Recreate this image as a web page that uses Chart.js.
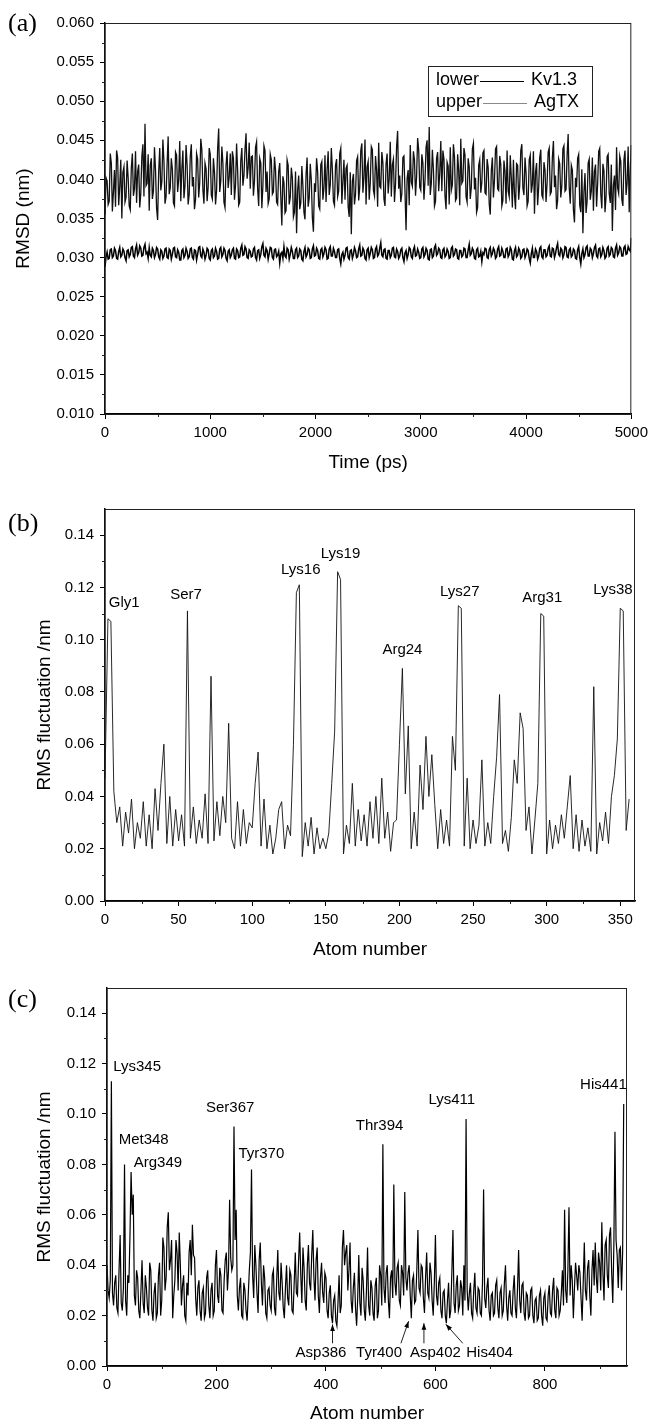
<!DOCTYPE html>
<html>
<head>
<meta charset="utf-8">
<script src="https://cdn.jsdelivr.net/npm/chart.js@4.4.1/dist/chart.umd.min.js"></script>
<style>
  html, body { margin: 0; padding: 0; background: #fff; }
  body { width: 653px; height: 1427px; position: relative; overflow: hidden; }
  .panel { position: absolute; left: 0; width: 653px; }
  #boxA { top: 0; height: 480px; }
  #boxB { top: 480px; height: 484px; }
  #boxC { top: 964px; height: 463px; }
</style>
</head>
<body>
<div class="panel" id="boxA"><canvas id="chartA"></canvas></div>
<div class="panel" id="boxB"><canvas id="chartB"></canvas></div>
<div class="panel" id="boxC"><canvas id="chartC"></canvas></div>
<script>
// ---- (a) RMSD vs time, one sample every 10 ps ----
const TIME_STEP = 10;
const agtxRmsd = [
  0.0355,0.0402,0.0398,0.0368,0.0372,0.0433,0.0421,0.0359,0.0384,0.0412,0.0365,0.0437,0.0428,0.0367,0.0391,0.0425,0.0350,0.0409,0.0416,0.0371,
  0.0377,0.0424,0.0402,0.0366,0.0361,0.0415,0.0433,0.0379,0.0388,0.0436,0.0370,0.0410,0.0419,0.0364,0.0382,0.0429,0.0445,0.0378,0.0471,0.0392,
  0.0395,0.0432,0.0360,0.0418,0.0427,0.0375,0.0385,0.0441,0.0412,0.0363,0.0348,0.0409,0.0440,0.0386,0.0397,0.0451,0.0423,0.0369,0.0378,0.0420,
  0.0455,0.0381,0.0389,0.0427,0.0413,0.0370,0.0366,0.0435,0.0431,0.0384,0.0400,0.0449,0.0372,0.0413,0.0437,0.0376,0.0392,0.0444,0.0418,0.0368,
  0.0381,0.0429,0.0445,0.0391,0.0403,0.0362,0.0374,0.0433,0.0426,0.0377,0.0396,0.0452,0.0438,0.0387,0.0369,0.0421,0.0414,0.0372,0.0390,0.0440,
  0.0432,0.0380,0.0375,0.0427,0.0409,0.0368,0.0386,0.0439,0.0465,0.0384,0.0398,0.0442,0.0421,0.0371,0.0364,0.0418,0.0436,0.0389,0.0403,0.0433,
  0.0380,0.0436,0.0427,0.0374,0.0393,0.0446,0.0411,0.0367,0.0371,0.0424,0.0440,0.0392,0.0405,0.0438,0.0459,0.0401,0.0415,0.0447,0.0388,0.0429,
  0.0430,0.0379,0.0398,0.0441,0.0448,0.0388,0.0366,0.0427,0.0421,0.0363,0.0392,0.0443,0.0437,0.0384,0.0410,0.0369,0.0375,0.0432,0.0425,0.0381,
  0.0384,0.0429,0.0412,0.0371,0.0368,0.0410,0.0421,0.0378,0.0341,0.0404,0.0396,0.0357,0.0360,0.0425,0.0418,0.0368,0.0377,0.0415,0.0402,0.0352,
  0.0358,0.0410,0.0331,0.0386,0.0405,0.0362,0.0370,0.0417,0.0392,0.0358,0.0349,0.0406,0.0428,0.0365,0.0376,0.0420,0.0399,0.0351,0.0333,0.0395,
  0.0384,0.0427,0.0410,0.0366,0.0362,0.0419,0.0423,0.0374,0.0389,0.0431,0.0371,0.0412,0.0436,0.0380,0.0393,0.0440,0.0413,0.0372,0.0367,0.0418,
  0.0426,0.0378,0.0385,0.0433,0.0440,0.0369,0.0397,0.0425,0.0374,0.0414,0.0418,0.0365,0.0352,0.0409,0.0330,0.0398,0.0407,0.0368,0.0381,0.0424,
  0.0429,0.0373,0.0390,0.0437,0.0446,0.0383,0.0402,0.0451,0.0368,0.0416,0.0423,0.0374,0.0395,0.0442,0.0438,0.0386,0.0379,0.0430,0.0412,0.0365,
  0.0447,0.0391,0.0389,0.0435,0.0421,0.0375,0.0366,0.0420,0.0433,0.0382,0.0401,0.0448,0.0378,0.0419,0.0426,0.0371,0.0394,0.0441,0.0462,0.0388,
  0.0405,0.0371,0.0382,0.0428,0.0430,0.0384,0.0335,0.0401,0.0412,0.0367,0.0444,0.0396,0.0391,0.0436,0.0425,0.0379,0.0403,0.0453,0.0438,0.0390,
  0.0386,0.0432,0.0421,0.0374,0.0398,0.0441,0.0450,0.0392,0.0467,0.0380,0.0395,0.0438,0.0413,0.0366,0.0372,0.0427,0.0435,0.0385,0.0408,0.0449,
  0.0385,0.0437,0.0426,0.0379,0.0362,0.0422,0.0417,0.0368,0.0441,0.0386,0.0393,0.0445,0.0429,0.0373,0.0376,0.0432,0.0411,0.0367,0.0452,0.0395,
  0.0398,0.0440,0.0431,0.0378,0.0371,0.0427,0.0416,0.0375,0.0390,0.0439,0.0446,0.0387,0.0402,0.0358,0.0364,0.0418,0.0425,0.0383,0.0396,0.0434,
  0.0437,0.0383,0.0381,0.0426,0.0415,0.0369,0.0355,0.0411,0.0428,0.0377,0.0399,0.0439,0.0442,0.0388,0.0386,0.0430,0.0419,0.0366,0.0373,0.0424,
  0.0410,0.0369,0.0437,0.0385,0.0378,0.0431,0.0402,0.0364,0.0425,0.0381,0.0362,0.0420,0.0418,0.0374,0.0393,0.0437,0.0445,0.0389,0.0380,0.0428,
  0.0408,0.0366,0.0372,0.0425,0.0431,0.0383,0.0394,0.0436,0.0356,0.0409,0.0421,0.0367,0.0390,0.0428,0.0438,0.0380,0.0376,0.0422,0.0412,0.0371,
  0.0396,0.0435,0.0440,0.0381,0.0384,0.0428,0.0449,0.0390,0.0405,0.0362,0.0373,0.0426,0.0420,0.0377,0.0392,0.0439,0.0443,0.0385,0.0387,0.0431,
  0.0458,0.0390,0.0369,0.0418,0.0412,0.0361,0.0345,0.0402,0.0390,0.0427,0.0432,0.0367,0.0358,0.0413,0.0331,0.0384,0.0408,0.0357,0.0372,0.0421,
  0.0426,0.0374,0.0385,0.0428,0.0360,0.0410,0.0419,0.0365,0.0394,0.0436,0.0440,0.0381,0.0363,0.0420,0.0411,0.0358,0.0378,0.0429,0.0432,0.0382,
  0.0370,0.0419,0.0334,0.0392,0.0405,0.0361,0.0441,0.0389,0.0382,0.0430,0.0423,0.0374,0.0366,0.0425,0.0437,0.0380,0.0395,0.0442,0.0358,0.0413,
  0.0444
];
const kv13Rmsd = [
  0.0288,0.0301,0.0307,0.0298,0.0299,0.0310,0.0311,0.0300,0.0302,0.0312,0.0309,0.0299,0.0298,0.0308,0.0313,0.0301,0.0303,0.0311,0.0308,0.0300,
  0.0296,0.0309,0.0310,0.0301,0.0304,0.0313,0.0314,0.0302,0.0300,0.0311,0.0316,0.0303,0.0306,0.0315,0.0312,0.0302,0.0303,0.0313,0.0317,0.0305,
  0.0307,0.0299,0.0313,0.0303,0.0301,0.0312,0.0309,0.0300,0.0304,0.0313,0.0311,0.0301,0.0298,0.0310,0.0308,0.0299,0.0302,0.0311,0.0312,0.0300,
  0.0299,0.0311,0.0309,0.0298,0.0304,0.0312,0.0313,0.0301,0.0300,0.0310,0.0307,0.0297,0.0297,0.0309,0.0311,0.0300,0.0303,0.0312,0.0308,0.0299,
  0.0301,0.0311,0.0312,0.0300,0.0298,0.0310,0.0309,0.0297,0.0304,0.0313,0.0314,0.0302,0.0300,0.0311,0.0307,0.0298,0.0303,0.0312,0.0310,0.0299,
  0.0297,0.0309,0.0311,0.0300,0.0302,0.0312,0.0308,0.0298,0.0299,0.0311,0.0313,0.0301,0.0304,0.0312,0.0309,0.0299,0.0296,0.0308,0.0310,0.0300,
  0.0303,0.0310,0.0312,0.0299,0.0298,0.0311,0.0309,0.0300,0.0301,0.0312,0.0316,0.0303,0.0304,0.0314,0.0311,0.0300,0.0299,0.0310,0.0308,0.0301,
  0.0302,0.0311,0.0313,0.0300,0.0297,0.0309,0.0310,0.0299,0.0304,0.0314,0.0318,0.0303,0.0301,0.0312,0.0309,0.0298,0.0305,0.0313,0.0312,0.0300,
  0.0298,0.0310,0.0311,0.0301,0.0303,0.0308,0.0293,0.0305,0.0307,0.0299,0.0314,0.0302,0.0300,0.0312,0.0310,0.0298,0.0304,0.0313,0.0308,0.0299,
  0.0299,0.0310,0.0312,0.0300,0.0302,0.0311,0.0309,0.0298,0.0296,0.0308,0.0313,0.0301,0.0304,0.0312,0.0310,0.0299,0.0300,0.0311,0.0315,0.0302,
  0.0303,0.0312,0.0309,0.0299,0.0298,0.0310,0.0312,0.0301,0.0305,0.0313,0.0310,0.0298,0.0299,0.0311,0.0314,0.0302,0.0302,0.0312,0.0308,0.0300,
  0.0300,0.0310,0.0311,0.0299,0.0292,0.0304,0.0307,0.0298,0.0303,0.0312,0.0313,0.0300,0.0298,0.0309,0.0310,0.0299,0.0304,0.0313,0.0309,0.0300,
  0.0301,0.0311,0.0316,0.0302,0.0303,0.0312,0.0309,0.0299,0.0297,0.0310,0.0312,0.0300,0.0305,0.0313,0.0310,0.0299,0.0300,0.0311,0.0314,0.0302,
  0.0304,0.0312,0.0319,0.0303,0.0301,0.0310,0.0311,0.0299,0.0298,0.0309,0.0309,0.0300,0.0303,0.0312,0.0313,0.0301,0.0300,0.0311,0.0308,0.0299,
  0.0302,0.0310,0.0312,0.0300,0.0295,0.0306,0.0309,0.0299,0.0304,0.0313,0.0311,0.0301,0.0299,0.0310,0.0314,0.0302,0.0303,0.0311,0.0307,0.0299,
  0.0300,0.0311,0.0313,0.0301,0.0304,0.0312,0.0309,0.0298,0.0297,0.0310,0.0311,0.0300,0.0302,0.0313,0.0316,0.0303,0.0305,0.0312,0.0310,0.0300,
  0.0299,0.0310,0.0312,0.0301,0.0303,0.0311,0.0308,0.0299,0.0300,0.0312,0.0314,0.0302,0.0304,0.0311,0.0310,0.0299,0.0298,0.0309,0.0309,0.0301,
  0.0303,0.0312,0.0311,0.0300,0.0300,0.0310,0.0317,0.0303,0.0305,0.0312,0.0309,0.0299,0.0298,0.0310,0.0312,0.0301,0.0302,0.0308,0.0295,0.0306,
  0.0304,0.0312,0.0311,0.0300,0.0299,0.0310,0.0313,0.0302,0.0305,0.0312,0.0309,0.0299,0.0301,0.0311,0.0314,0.0302,0.0303,0.0312,0.0308,0.0300,
  0.0300,0.0311,0.0312,0.0301,0.0304,0.0313,0.0310,0.0298,0.0297,0.0309,0.0313,0.0301,0.0303,0.0312,0.0309,0.0299,0.0301,0.0310,0.0311,0.0300,
  0.0304,0.0311,0.0309,0.0299,0.0293,0.0305,0.0312,0.0300,0.0300,0.0311,0.0308,0.0298,0.0302,0.0312,0.0314,0.0301,0.0299,0.0310,0.0310,0.0301,
  0.0303,0.0312,0.0315,0.0302,0.0301,0.0312,0.0311,0.0300,0.0305,0.0313,0.0318,0.0304,0.0302,0.0312,0.0310,0.0300,0.0304,0.0314,0.0313,0.0301,
  0.0300,0.0310,0.0312,0.0301,0.0303,0.0311,0.0309,0.0299,0.0298,0.0310,0.0314,0.0300,0.0292,0.0305,0.0311,0.0300,0.0304,0.0313,0.0315,0.0302,
  0.0302,0.0312,0.0310,0.0300,0.0305,0.0313,0.0316,0.0302,0.0300,0.0311,0.0312,0.0301,0.0304,0.0313,0.0309,0.0299,0.0301,0.0312,0.0314,0.0302,
  0.0304,0.0313,0.0311,0.0301,0.0300,0.0312,0.0316,0.0303,0.0306,0.0314,0.0312,0.0302,0.0302,0.0313,0.0315,0.0304,0.0305,0.0314,0.0310,0.0308,
  0.0325
];
const timeTicks = [0, 1000, 2000, 3000, 4000, 5000];
const timeMinor = [500, 1500, 2500, 3500, 4500];
const rmsdTicks = [0.010, 0.015, 0.020, 0.025, 0.030, 0.035, 0.040, 0.045, 0.050, 0.055, 0.060];
const rmsdMinor = [0.0125, 0.0175, 0.0225, 0.0275, 0.0325, 0.0375, 0.0425, 0.0475, 0.0525, 0.0575];

// ---- (b) AgTX fluctuation, every 2nd atom ----
const AGTX_STEP = 2;
const agtxRmsf = [
  0.047,0.108,0.107,0.042,0.030,0.036,0.021,0.034,0.026,0.039,
  0.020,0.030,0.024,0.038,0.021,0.033,0.020,0.043,0.027,0.045,
  0.060,0.022,0.040,0.021,0.035,0.023,0.033,0.021,0.111,0.024,
  0.036,0.022,0.031,0.024,0.041,0.022,0.086,0.023,0.038,0.025,
  0.040,0.030,0.068,0.024,0.020,0.038,0.021,0.035,0.022,0.030,
  0.028,0.045,0.057,0.021,0.039,0.020,0.029,0.018,0.024,0.035,
  0.038,0.020,0.029,0.025,0.060,0.118,0.121,0.017,0.030,0.021,
  0.032,0.018,0.028,0.020,0.024,0.020,0.026,0.045,0.065,0.126,
  0.123,0.018,0.029,0.022,0.045,0.021,0.035,0.023,0.033,0.021,
  0.038,0.024,0.040,0.022,0.047,0.024,0.034,0.019,0.030,0.031,
  0.060,0.089,0.041,0.067,0.020,0.034,0.021,0.052,0.035,0.063,
  0.040,0.056,0.037,0.020,0.035,0.022,0.031,0.021,0.063,0.050,
  0.113,0.112,0.021,0.047,0.020,0.031,0.022,0.029,0.054,0.021,
  0.030,0.022,0.040,0.055,0.079,0.022,0.027,0.019,0.032,0.054,
  0.045,0.072,0.066,0.027,0.036,0.018,0.031,0.045,0.110,0.109,
  0.018,0.031,0.020,0.029,0.022,0.033,0.024,0.036,0.048,0.020,
  0.033,0.019,0.031,0.021,0.028,0.019,0.082,0.018,0.030,0.023,
  0.034,0.022,0.040,0.048,0.062,0.112,0.111,0.027,0.039
];
const agtxTicks = [0, 50, 100, 150, 200, 250, 300, 350];
const agtxMinor = [25, 75, 125, 175, 225, 275, 325];

// ---- (c) Kv1.3 fluctuation, every 2nd atom ----
const KV_STEP = 2;
const kv13Rmsf = [
  0.040,0.030,0.027,0.034,0.113,0.029,0.024,0.033,0.036,0.023,0.021,0.038,0.052,0.025,0.022,0.031,0.080,0.026,0.020,0.036,
  0.033,0.052,0.077,0.060,0.068,0.028,0.024,0.038,0.035,0.022,0.019,0.030,0.042,0.025,0.021,0.036,0.031,0.023,0.020,0.041,
  0.038,0.022,0.018,0.029,0.033,0.019,0.021,0.036,0.041,0.020,0.026,0.051,0.047,0.030,0.035,0.055,0.061,0.038,0.042,0.050,
  0.019,0.028,0.034,0.050,0.045,0.030,0.053,0.040,0.024,0.032,0.036,0.020,0.018,0.033,0.028,0.045,0.050,0.036,0.056,0.044,
  0.043,0.027,0.020,0.031,0.034,0.022,0.018,0.029,0.031,0.019,0.021,0.035,0.038,0.024,0.019,0.030,0.033,0.020,0.022,0.040,
  0.046,0.028,0.025,0.039,0.036,0.022,0.021,0.034,0.042,0.045,0.030,0.038,0.066,0.043,0.038,0.040,0.095,0.050,0.062,0.028,
  0.022,0.031,0.035,0.020,0.019,0.033,0.030,0.022,0.018,0.028,0.038,0.045,0.078,0.036,0.027,0.048,0.040,0.029,0.021,0.042,
  0.049,0.033,0.024,0.040,0.035,0.021,0.019,0.030,0.031,0.024,0.022,0.036,0.038,0.023,0.020,0.034,0.046,0.029,0.026,0.041,
  0.033,0.023,0.019,0.031,0.040,0.027,0.024,0.038,0.036,0.022,0.021,0.033,0.045,0.029,0.028,0.042,0.053,0.036,0.025,0.047,
  0.039,0.026,0.022,0.040,0.048,0.033,0.030,0.044,0.054,0.035,0.026,0.042,0.047,0.028,0.021,0.035,0.041,0.029,0.025,0.037,
  0.035,0.022,0.019,0.029,0.032,0.020,0.017,0.026,0.028,0.018,0.016,0.025,0.036,0.021,0.024,0.047,0.054,0.040,0.045,0.048,
  0.030,0.038,0.049,0.026,0.021,0.031,0.037,0.023,0.016,0.027,0.044,0.025,0.020,0.039,0.034,0.022,0.018,0.030,0.047,0.024,
  0.020,0.034,0.031,0.021,0.018,0.032,0.035,0.019,0.022,0.040,0.036,0.024,0.088,0.031,0.025,0.037,0.040,0.026,0.019,0.035,
  0.038,0.027,0.072,0.033,0.028,0.039,0.041,0.026,0.024,0.040,0.037,0.028,0.069,0.035,0.030,0.037,0.040,0.028,0.019,0.034,
  0.036,0.025,0.026,0.038,0.054,0.031,0.029,0.040,0.039,0.027,0.021,0.035,0.045,0.029,0.027,0.041,0.037,0.026,0.020,0.033,
  0.052,0.028,0.024,0.033,0.035,0.022,0.019,0.029,0.030,0.020,0.017,0.026,0.033,0.019,0.022,0.037,0.054,0.025,0.021,0.032,
  0.036,0.022,0.024,0.034,0.031,0.020,0.040,0.026,0.098,0.030,0.022,0.029,0.033,0.021,0.019,0.030,0.037,0.023,0.021,0.031,
  0.030,0.021,0.020,0.033,0.070,0.027,0.023,0.031,0.035,0.022,0.018,0.028,0.029,0.020,0.021,0.032,0.034,0.023,0.019,0.029,
  0.031,0.020,0.022,0.033,0.040,0.024,0.018,0.027,0.030,0.021,0.020,0.030,0.036,0.023,0.019,0.031,0.046,0.026,0.021,0.032,
  0.033,0.021,0.018,0.029,0.028,0.019,0.020,0.030,0.031,0.020,0.017,0.026,0.027,0.018,0.019,0.028,0.030,0.020,0.016,0.027,
  0.029,0.019,0.018,0.028,0.032,0.021,0.020,0.030,0.035,0.022,0.019,0.031,0.030,0.020,0.022,0.029,0.038,0.024,0.062,0.030,
  0.025,0.038,0.063,0.028,0.040,0.034,0.019,0.031,0.041,0.036,0.030,0.040,0.037,0.027,0.018,0.033,0.049,0.030,0.026,0.039,
  0.042,0.028,0.020,0.038,0.046,0.032,0.049,0.035,0.029,0.045,0.041,0.030,0.057,0.037,0.026,0.048,0.050,0.036,0.031,0.052,
  0.055,0.037,0.025,0.048,0.093,0.050,0.044,0.031,0.046,0.047,0.030,0.045,0.104
];
const kv13Ticks = [0, 200, 400, 600, 800];
const kv13Minor = [100, 300, 500, 700, 900];

const rmsfTicks = [0, 0.02, 0.04, 0.06, 0.08, 0.10, 0.12, 0.14];
const rmsfMinor = [0.01, 0.03, 0.05, 0.07, 0.09, 0.11, 0.13];

// residue labels, placed in data units
const agtxLabels = [
  { text: 'Gly1', x: 13, y: 0.114 },
  { text: 'Ser7', x: 55, y: 0.117 },
  { text: 'Lys16', x: 133, y: 0.1267 },
  { text: 'Lys19', x: 160, y: 0.1328 },
  { text: 'Arg24', x: 202, y: 0.0961 },
  { text: 'Lys27', x: 241, y: 0.1184 },
  { text: 'Arg31', x: 297, y: 0.1161 },
  { text: 'Lys38', x: 345, y: 0.119 }
];
const kv13Labels = [
  { text: 'Lys345', x: 55, y: 0.1186 },
  { text: 'Met348', x: 67, y: 0.0898 },
  { text: 'Arg349', x: 93, y: 0.0807 },
  { text: 'Ser367', x: 225, y: 0.1025 },
  { text: 'Tyr370', x: 282, y: 0.0843 },
  { text: 'Thr394', x: 498, y: 0.0954 },
  { text: 'Lys411', x: 630, y: 0.1057 },
  { text: 'His441', x: 907, y: 0.1117 },
  { text: 'Asp386', x: 391, y: 0.0052 },
  { text: 'Tyr400', x: 497, y: 0.0052 },
  { text: 'Asp402', x: 600, y: 0.0052 },
  { text: 'His404', x: 699, y: 0.0052 }
];
const kv13Arrows = [
  { x0: 412, y0: 0.009, x1: 412, y1: 0.0165 },
  { x0: 537, y0: 0.009, x1: 551, y1: 0.0178 },
  { x0: 579, y0: 0.009, x1: 579, y1: 0.017 },
  { x0: 650, y0: 0.009, x1: 619, y1: 0.0166 }
];

const FONT = "'Liberation Sans', Arial, Helvetica, sans-serif";
Chart.defaults.font.family = FONT;
Chart.defaults.color = '#000';

const toPoints = (vals, step) => vals.map((v, i) => ({ x: i * step, y: v }));

// frame, minor ticks, panel tag, residue labels, arrows, legend
const decorPlugin = {
  id: 'decor',
  afterDraw(chart, args, opts) {
    const { ctx, chartArea: a, scales: { x, y } } = chart;
    ctx.save();
    ctx.strokeStyle = '#222';
    ctx.lineWidth = 1;
    ctx.strokeRect(a.left, a.top + 0.5, a.right - a.left - 0.5, a.bottom - a.top);

    ctx.beginPath();
    (opts.xMinor || []).forEach(v => {
      const px = Math.round(x.getPixelForValue(v)) + 0.5;
      ctx.moveTo(px, a.bottom);
      ctx.lineTo(px, a.bottom + 3);
    });
    (opts.yMinor || []).forEach(v => {
      const py = Math.round(y.getPixelForValue(v)) + 0.5;
      ctx.moveTo(a.left, py);
      ctx.lineTo(a.left - 3, py);
    });
    ctx.stroke();

    ctx.fillStyle = '#000';
    ctx.textBaseline = 'middle';
    ctx.textAlign = 'left';
    ctx.font = "26px 'Liberation Serif', 'Times New Roman', serif";
    ctx.fillText(opts.tag.text, opts.tag.x, opts.tag.y);

    ctx.font = '15px ' + FONT;
    ctx.textAlign = 'center';
    (opts.labels || []).forEach(l => {
      ctx.fillText(l.text, x.getPixelForValue(l.x), y.getPixelForValue(l.y));
    });

    (opts.arrows || []).forEach(r => {
      const x0 = x.getPixelForValue(r.x0), y0 = y.getPixelForValue(r.y0);
      const x1 = x.getPixelForValue(r.x1), y1 = y.getPixelForValue(r.y1);
      const ang = Math.atan2(y1 - y0, x1 - x0);
      ctx.beginPath();
      ctx.moveTo(x0, y0);
      ctx.lineTo(x1, y1);
      ctx.stroke();
      ctx.beginPath();
      ctx.moveTo(x1, y1);
      ctx.lineTo(x1 - 7 * Math.cos(ang - 0.35), y1 - 7 * Math.sin(ang - 0.35));
      ctx.lineTo(x1 - 7 * Math.cos(ang + 0.35), y1 - 7 * Math.sin(ang + 0.35));
      ctx.closePath();
      ctx.fill();
    });

    if (opts.legend) {
      const L = opts.legend;
      ctx.strokeStyle = '#222';
      ctx.strokeRect(L.box[0] + 0.5, L.box[1] + 0.5, L.box[2], L.box[3]);
      ctx.font = '18px ' + FONT;
      ctx.textAlign = 'left';
      L.rows.forEach(row => {
        ctx.fillStyle = '#000';
        ctx.fillText(row.left, L.x, row.y);
        const lx = L.x + ctx.measureText(row.left).width + 1;
        ctx.strokeStyle = row.color;
        ctx.beginPath();
        ctx.moveTo(lx, row.y + 1.5);
        ctx.lineTo(lx + 44, row.y + 1.5);
        ctx.stroke();
        ctx.fillText(row.right, lx + 51, row.y);
      });
    }
    ctx.restore();
  }
};

function makeOptions(cfg) {
  return {
    responsive: true,
    maintainAspectRatio: false,
    animation: false,
    events: [],
    layout: { padding: cfg.padding },
    plugins: {
      legend: { display: false },
      tooltip: { enabled: false },
      decor: cfg.decor
    },
    scales: {
      x: {
        type: 'linear',
        min: cfg.xMin, max: cfg.xMax,
        afterBuildTicks: s => { s.ticks = cfg.xTicks.map(v => ({ value: v })); },
        afterFit: s => { s.height = cfg.xHeight; },
        grid: { drawOnChartArea: false, drawTicks: true, tickLength: 5, tickColor: '#000' },
        border: { display: true, color: '#000', width: 1.5 },
        ticks: { font: { size: 15 }, padding: 5, maxRotation: 0, autoSkip: false, color: '#000',
                 callback: v => String(v) },
        title: { display: true, text: cfg.xTitle, font: { size: 19 }, color: '#000',
                 padding: { top: 0, bottom: cfg.xTitlePad } }
      },
      y: {
        type: 'linear',
        min: cfg.yMin, max: cfg.yMax,
        afterBuildTicks: s => { s.ticks = cfg.yTicks.map(v => ({ value: v })); },
        afterFit: s => { s.width = cfg.yWidth; },
        grid: { drawOnChartArea: false, drawTicks: true, tickLength: 5, tickColor: '#000' },
        border: { display: true, color: '#000', width: 1.5 },
        ticks: { font: { size: 15 }, padding: 6, autoSkip: false, color: '#000',
                 callback: v => Number(v).toFixed(cfg.yDigits) },
        title: { display: true, text: cfg.yTitle, font: { size: 19 }, color: '#000',
                 padding: { top: cfg.yTitlePad, bottom: 0 } }
      }
    }
  };
}

new Chart(document.getElementById('chartA'), {
  type: 'line',
  data: {
    datasets: [
      { label: 'Kv1.3', data: toPoints(kv13Rmsd, TIME_STEP),
        borderColor: '#000', borderWidth: 1.5, pointRadius: 0, tension: 0 },
      { label: 'AgTX', data: toPoints(agtxRmsd, TIME_STEP),
        borderColor: '#111', borderWidth: 1.3, pointRadius: 0, tension: 0 }
    ]
  },
  options: makeOptions({
    padding: { top: 23, right: 19, left: 0, bottom: 0 },
    xMin: 0, xMax: 5000, xTicks: timeTicks, xHeight: 66, xTitle: 'Time (ps)', xTitlePad: 6,
    yMin: 0.010, yMax: 0.060, yTicks: rmsdTicks, yWidth: 105, yDigits: 3,
    yTitle: 'RMSD (nm)', yTitlePad: 12,
    decor: {
      xMinor: timeMinor, yMinor: rmsdMinor,
      tag: { text: '(a)', x: 8, y: 24 },
      legend: {
        box: [428, 66, 164, 50], x: 436,
        rows: [
          { left: 'lower', right: 'Kv1.3', y: 80, color: '#000' },
          { left: 'upper', right: 'AgTX', y: 102, color: '#888' }
        ]
      }
    }
  }),
  plugins: [decorPlugin]
});

new Chart(document.getElementById('chartB'), {
  type: 'line',
  data: {
    datasets: [
      { label: 'AgTX', data: toPoints(agtxRmsf, AGTX_STEP),
        borderColor: '#111', borderWidth: 0.9, pointRadius: 0, tension: 0 }
    ]
  },
  options: makeOptions({
    padding: { top: 29, right: 18, left: 0, bottom: 0 },
    xMin: 0, xMax: 360, xTicks: agtxTicks, xHeight: 63, xTitle: 'Atom number', xTitlePad: 3,
    yMin: 0, yMax: 0.15, yTicks: rmsfTicks, yWidth: 105, yDigits: 2,
    yTitle: 'RMS fluctuation /nm', yTitlePad: 33,
    decor: {
      xMinor: agtxMinor, yMinor: rmsfMinor,
      tag: { text: '(b)', x: 8, y: 44 },
      labels: agtxLabels
    }
  }),
  plugins: [decorPlugin]
});

new Chart(document.getElementById('chartC'), {
  type: 'line',
  data: {
    datasets: [
      { label: 'Kv1.3', data: toPoints(kv13Rmsf, KV_STEP),
        borderColor: '#000', borderWidth: 1.2, pointRadius: 0, tension: 0 }
    ]
  },
  options: makeOptions({
    padding: { top: 24, right: 26, left: 0, bottom: 0 },
    xMin: 0, xMax: 950, xTicks: kv13Ticks, xHeight: 61, xTitle: 'Atom number', xTitlePad: 2,
    yMin: 0, yMax: 0.15, yTicks: rmsfTicks, yWidth: 107, yDigits: 2,
    yTitle: 'RMS fluctuation /nm', yTitlePad: 33,
    decor: {
      xMinor: kv13Minor, yMinor: rmsfMinor,
      tag: { text: '(c)', x: 8, y: 36 },
      labels: kv13Labels,
      arrows: kv13Arrows
    }
  }),
  plugins: [decorPlugin]
});
</script>
</body>
</html>
